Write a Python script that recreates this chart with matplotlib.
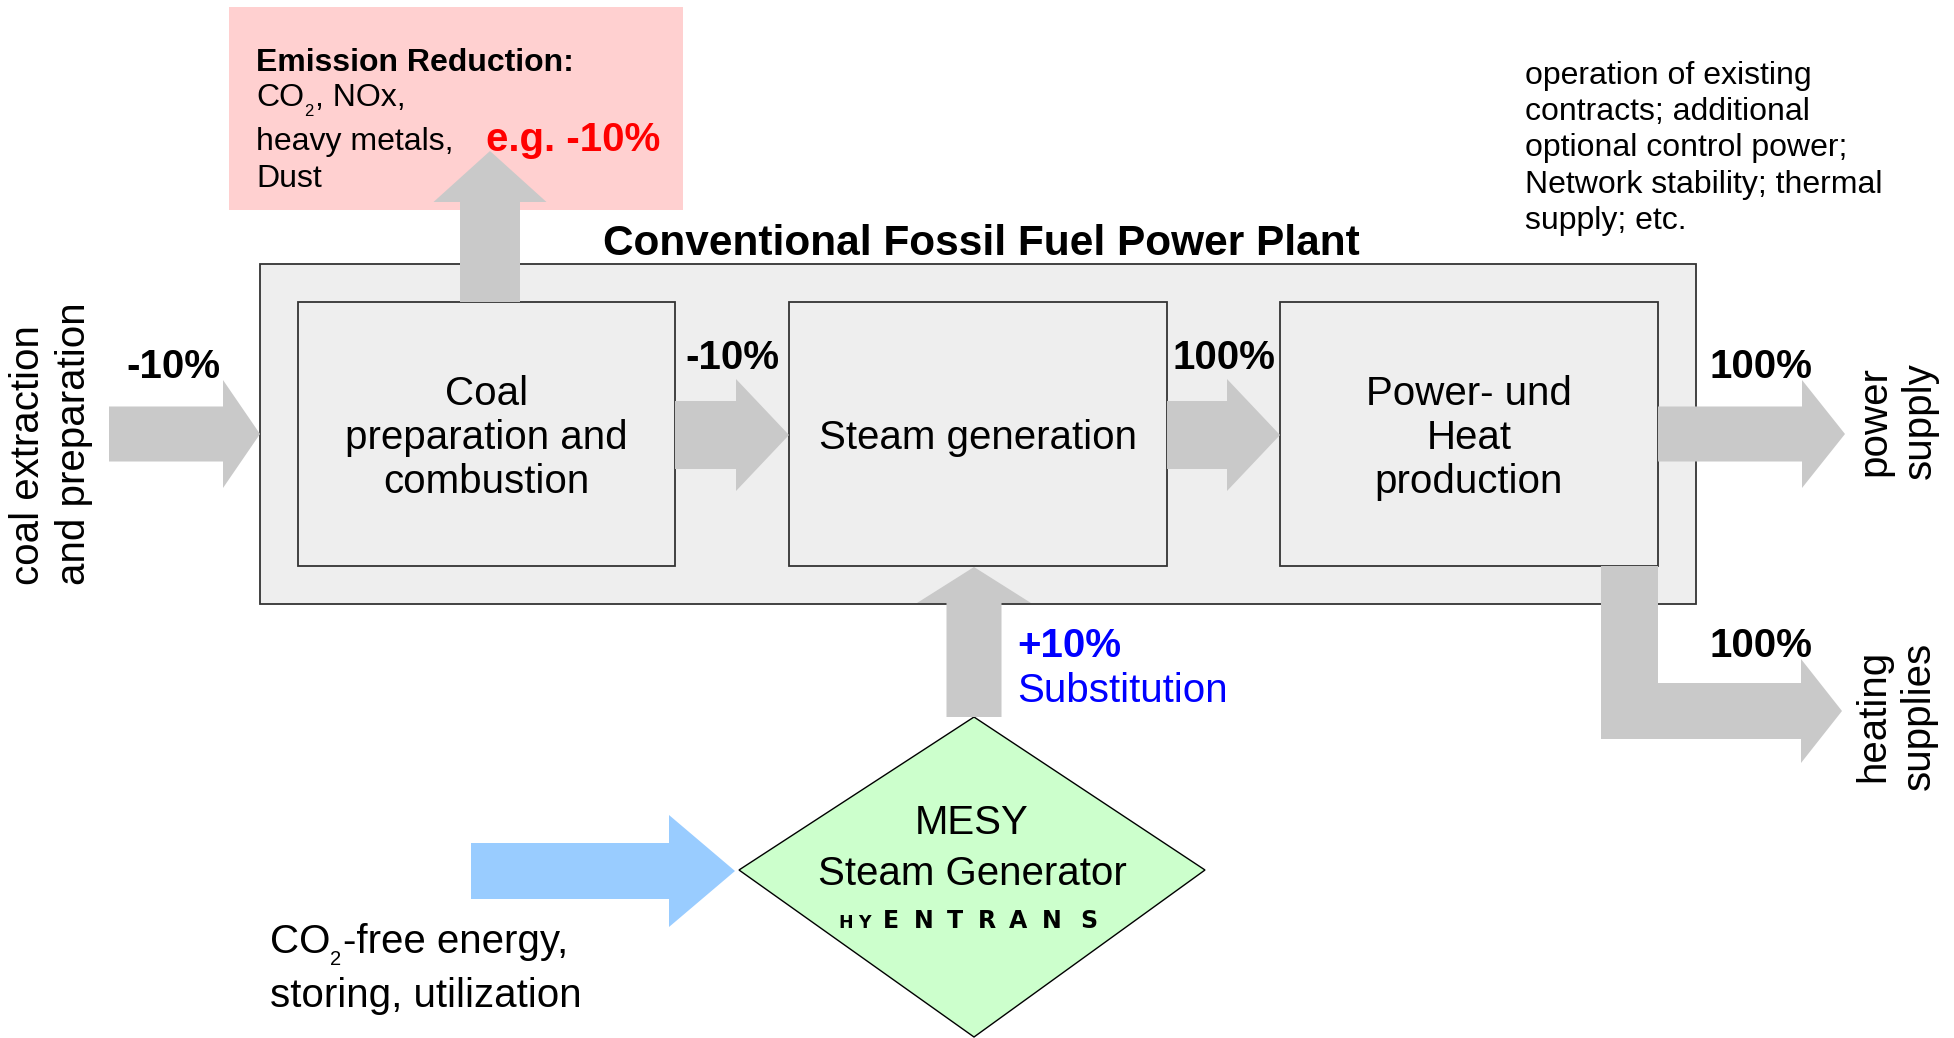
import matplotlib
matplotlib.use("Agg")
import matplotlib.pyplot as plt
from matplotlib.patches import Polygon, Rectangle

#%% --- Texts and values of the diagram ---

box_labels = ["Coal\npreparation and\ncombustion", "Steam generation", "Power- und\nHeat\nproduction"]
flow_labels = ["-10%", "-10%", "100%", "100%", "100%"]
plant_title = "Conventional Fossil Fuel Power Plant"
emission_head = "Emission Reduction:"
emission_lines = ["heavy metals,", "Dust"]
emission_value = "e.g. -10%"
substitution_value = "+10%"
substitution_label = "Substitution"
side_note = ["operation of existing", "contracts; additional", "optional control power;",
             "Network stability; thermal", "supply; etc."]
input_label = "coal extraction\nand preparation"
output_labels = ["power\nsupply", "heating\nsupplies"]
mesy_lines = ["MESY", "Steam Generator"]
logo_small = "HY"
logo_big = "ENTRANS"
co2_line_emission = [("CO", False), ("2", True), (", NOx,", False)]
co2_line_source = [("CO", False), ("2", True), ("-free energy,", False)]
source_line_2 = "storing, utilization"

#%% --- Style ---

plt.rcParams["font.family"] = ["Liberation Sans", "DejaVu Sans"]

c_arrow = "#c9c9c9"
c_box = "#eeeeee"
c_edge = "#333333"
c_pink = "#ffd0d0"
c_blue_arrow = "#99ccff"
c_green = "#ccffcc"
fs_main = 29
fs_small = 23
dy = 3  # small downward nudge for centred text


def arrow_h(ax, x0, x1, yc, shaft_h, head_h, head_len, color):
    # horizontal block arrow pointing right
    xb = x1 - head_len
    pts = [(x0, yc - shaft_h), (xb, yc - shaft_h), (xb, yc - head_h), (x1, yc),
           (xb, yc + head_h), (xb, yc + shaft_h), (x0, yc + shaft_h)]
    ax.add_patch(Polygon(pts, closed=True, facecolor=color, edgecolor="none", zorder=3))


def arrow_up(ax, xc, y0, y1, shaft_h, head_h, head_len, color):
    # vertical block arrow pointing up (y axis inverted)
    yb = y1 + head_len
    pts = [(xc - shaft_h, y0), (xc - shaft_h, yb), (xc - head_h, yb), (xc, y1),
           (xc + head_h, yb), (xc + shaft_h, yb), (xc + shaft_h, y0)]
    ax.add_patch(Polygon(pts, closed=True, facecolor=color, edgecolor="none", zorder=3))


def text_with_sub(ax, x, y_base, parts, fs, fs_sub, sub_drop, gap=1.5):
    # writes pieces one after the other, subscripts smaller and lower
    renderer = ax.figure.canvas.get_renderer()
    for s, is_sub in parts:
        t = ax.text(x, y_base + (sub_drop if is_sub else 0), s,
                    fontsize=fs_sub if is_sub else fs, ha="left", va="baseline", zorder=5)
        w = t.get_window_extent(renderer).width
        x += w + (gap if is_sub else 0)


fig = plt.figure(figsize=(19.54, 10.38), dpi=100)
ax = fig.add_axes([0, 0, 1, 1])
ax.set_xlim(0, 1954)
ax.set_ylim(1038, 0)
ax.axis("off")

# --- Emission box ---
ax.add_patch(Rectangle((229, 7), 454, 203, facecolor=c_pink, edgecolor="none", zorder=1))
ax.text(256, 60 + dy, emission_head, fontsize=fs_small, fontweight="bold", va="center", ha="left", zorder=5)
text_with_sub(ax, 256, 106, co2_line_emission, fs_small, 12, 10)
for line, y in zip(emission_lines, [139, 176]):
    ax.text(256, y + dy, line, fontsize=fs_small, va="center", ha="left", zorder=5)
ax.text(486, 137 + dy, emission_value, fontsize=fs_main, color="red", fontweight="bold",
        va="center", ha="left", zorder=5)

# --- Power plant frame ---
ax.add_patch(Rectangle((260, 264), 1436, 340, facecolor=c_box, edgecolor=c_edge, lw=1.3, zorder=1))
ax.text(981, 241 + dy, plant_title, fontsize=30.5, fontweight="bold", ha="center", va="center")

box_x = [(298, 675), (789, 1167), (1280, 1658)]
for (xa, xb), lab in zip(box_x, box_labels):
    ax.add_patch(Rectangle((xa, 302), xb - xa, 264, facecolor=c_box, edgecolor=c_edge, lw=1.3, zorder=2))
    ax.text((xa + xb) / 2, 435 + dy, lab, fontsize=fs_main, ha="center", va="center",
            linespacing=1.2, zorder=5)

# --- Gray flow arrows ---
arrow_h(ax, 109, 260, 434, 27.5, 54, 37, c_arrow)
arrow_h(ax, 675, 789, 435, 34, 56, 53, c_arrow)
arrow_h(ax, 1167, 1280, 435, 34, 56, 53, c_arrow)
arrow_h(ax, 1658, 1845, 434, 27.5, 54, 43, c_arrow)
arrow_up(ax, 490, 302, 151, 30, 56.5, 51, c_arrow)
arrow_up(ax, 974, 717, 567, 27.5, 57, 36, c_arrow)

# heating supply: L-shaped arrow
ax.add_patch(Rectangle((1601, 566), 57, 173, facecolor=c_arrow, edgecolor="none", zorder=3))
arrow_h(ax, 1601, 1842, 711, 28, 52, 41, c_arrow)

# --- Flow percentages ---
flow_pos = [(173, 364), (732, 355), (1224, 355), (1761, 364), (1761, 643)]
for lab, (x, y) in zip(flow_labels, flow_pos):
    ax.text(x, y + dy, lab, fontsize=fs_main, fontweight="bold", ha="center", va="center", zorder=5)

ax.text(1017, 643 + dy, substitution_value, fontsize=fs_main, fontweight="bold", color="#0000ff",
        ha="left", va="center")
ax.text(1017, 688 + dy, substitution_label, fontsize=fs_main, color="#0000ff", ha="left", va="center")

# --- Side note ---
for i, line in enumerate(side_note):
    ax.text(1525, 76 + i * 36.2, line, fontsize=fs_small, ha="left", va="center")

# --- Rotated labels ---
ax.text(51, 444, input_label, fontsize=fs_main, rotation=90, ha="center", va="center",
        multialignment="left", linespacing=1.25)
ax.text(1897, 421, output_labels[0], fontsize=fs_main, rotation=90, ha="center", va="center",
        multialignment="center", linespacing=1.25)
ax.text(1896, 716, output_labels[1], fontsize=fs_main, rotation=90, ha="center", va="center",
        multialignment="center", linespacing=1.25)

# --- MESY diamond ---
ax.add_patch(Polygon([(739, 870), (974, 717), (1205, 870), (974, 1037)], closed=True,
                     facecolor=c_green, edgecolor="black", lw=1.0, zorder=2))
ax.text(972, 820 + dy, mesy_lines[0], fontsize=fs_main, ha="center", va="center", zorder=5)
ax.text(972, 871 + dy, mesy_lines[1], fontsize=fs_main, ha="center", va="center", zorder=5)

# hyentrans logo, wide spaced letters
small_x = [846, 864]
big_x = [891, 924, 955, 987, 1018, 1052, 1089]
for ch, x in zip(logo_small, small_x):
    ax.text(x, 928, ch, fontsize=12.5, fontweight="bold", family="DejaVu Sans",
            ha="center", va="baseline", zorder=5)
for ch, x in zip(logo_big, big_x):
    ax.text(x, 928, ch, fontsize=17, fontweight="bold", family="DejaVu Sans",
            ha="center", va="baseline", zorder=5)

# --- CO2-free energy input ---
arrow_h(ax, 471, 735, 871, 28, 56, 66, c_blue_arrow)
text_with_sub(ax, 270, 953, co2_line_source, fs_main, 14.5, 12)
ax.text(270, 993 + dy, source_line_2, fontsize=fs_main, ha="left", va="center")

fig.savefig("out.png", dpi=100, facecolor="white")
